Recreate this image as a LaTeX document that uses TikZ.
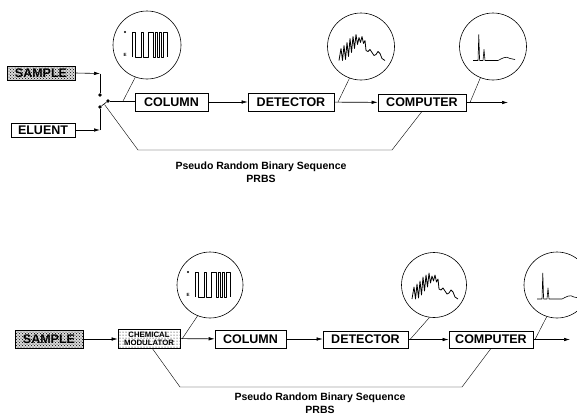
\documentclass[tikz,border=0pt]{standalone}
\usepackage{fontspec}
\setmainfont{Liberation Sans}
\usetikzlibrary{arrows.meta,patterns}
\tikzset{
  boxn/.style={draw, line width=0.7pt, inner sep=0pt, fill=white, font=\bfseries\fontsize{12.5}{12.5}\selectfont},
  samplebox/.style={boxn, preaction={fill=gray!30}, pattern=crosshatch dots},
  lens/.style={draw, circle, line width=0.6pt, inner sep=0pt, fill=white},
  flow/.style={line width=0.6pt, -{Latex[length=6pt,width=3.5pt]}},
  plain/.style={line width=0.6pt},
  leader/.style={line width=0.4pt},
  sig/.style={line width=0.5pt, line join=round},
  dotn/.style={circle, fill, inner sep=0pt, minimum size=3.6pt},
  lbl/.style={font=\bfseries\fontsize{10.5}{12.5}\selectfont, align=center},
  pics/prbs/.style={code={
    \fill (-22,-13) circle (1.2);
    \node[font=\bfseries\fontsize{4.5}{4.5}\selectfont, inner sep=0pt] at (-22,10) {E};
    \draw[sig] (-15,12) -- (-15,-13) -- (-12,-13) -- (-12,12) -- (-6,12) -- (-6,-13) -- (-4,-13) -- (-4,12) -- (1,12) -- (1,-13) -- (6,-13) -- (6,12) -- (8,12) -- (8,-13) -- (10,-13) -- (10,12) -- (12,12) -- (12,-13) -- (14,-13) -- (14,12) -- (16,12) -- (16,-13) -- (20,-13) -- (20,12);
  }},
  pics/chrom/.style={code={
    \draw[sig, line width=0.8pt] (-22,14) -- (-20,2) -- (-18.5,14) -- (-17,-1) -- (-15.5,13) -- (-14,-4) -- (-12.5,10) -- (-11,-8) -- (-9.5,6) -- (-8,-10) -- (-6.5,2) -- (-5,-12) -- (-3.5,-2) -- (-2,-9) -- (-0.5,-4) -- (1,-10) -- (2.5,-3) -- (4,-6) -- (5,4) -- (7,5) -- (9,3) -- (11,6) -- (13,9) -- (15,8) -- (17,5) -- (19,7) -- (21,12) -- (24,14);
  }},
  pics/peak/.style={code={
    \draw[sig, line width=0.6pt] (-20,14) -- (-15,14) -- (-14.2,-12) -- (-13.4,14) -- (-10,14) -- (-9,3) -- (-8,14) -- (5,14) .. controls (9,12) and (13,9) .. (17,12) -- (22,13);
  }}
}
\begin{document}
\begin{tikzpicture}[x=1pt,y=-1pt]
\useasboundingbox (0,0) rectangle (577,416);
\clip (0,0) rectangle (577,416);

% ---------------- top diagram ----------------
\node[samplebox, minimum width=68pt, minimum height=14pt] (s1) at (41,73) {SAMPLE};
\node[boxn, minimum width=64pt, minimum height=14pt] (el) at (43,130) {ELUENT};
\node[dotn] (d1) at (100,95) {};
\node[dotn] (d2) at (100,107) {};
\node[dotn] (d3) at (108,101) {};
\coordinate (k1) at (100,73.5);
\coordinate (k2) at (100,130);
\draw[flow] (s1.east) -- (k1);
\draw[plain] (k1) -- (d1);
\draw[flow] (el.east) -- (k2);
\draw[plain] (k2) -- (d2);
\draw[plain] (d2) -- (d3);

\node[boxn, minimum width=73pt, minimum height=18pt] (col1) at (171.5,102) {COLUMN};
\node[boxn, minimum width=86pt, minimum height=18pt] (det1) at (291,102) {DETECTOR};
\node[boxn, minimum width=88pt, minimum height=17pt] (com1) at (422,102.5) {COMPUTER};
\coordinate (out1) at (508,102.5);
\draw[plain] (d3) -- (d3 -| col1.west);
\draw[flow] (col1) -- (det1);
\draw[flow] (det1) -- (com1);
\draw[flow] (com1) -- (out1);

\node[lens, minimum size=68pt] (c1) at (147,45) {};
\node[lens, minimum size=67pt] (c2) at (361,46.5) {};
\node[lens, minimum size=67pt] (c3) at (493,46.5) {};
\pic at (c1.center) {prbs};
\pic at (c2.center) {chrom};
\pic at (c3.center) {peak};
\coordinate (t1) at (123,101);
\coordinate (t2) at (338,102);
\coordinate (t3) at (470,102.5);
\draw[leader] (c1.250) -- (t1);
\draw[leader] (c2.250) -- (t2);
\draw[leader] (c3.248) -- (t3);

\coordinate (sw) at (104.5,104.5);
\coordinate (p1a) at (138,150);
\coordinate (p1b) at (392,150);
\draw[leader] (sw) -- (p1a) -- (p1b) -- (com1.south);
\node[lbl] (lab1) at (261,172) {Pseudo Random Binary Sequence\\PRBS};

% ---------------- bottom diagram ----------------
\node[samplebox, minimum width=68pt, minimum height=18pt] (s2) at (49,339) {SAMPLE};
\node[boxn, pattern=dots, minimum width=62pt, minimum height=19pt, align=center, font=\bfseries\fontsize{7.8}{8.3}\selectfont] (mod) at (149,338.5) {CHEMICAL\\MODULATOR};
\node[boxn, minimum width=71pt, minimum height=18pt] (col2) at (250.5,339) {COLUMN};
\node[boxn, minimum width=85pt, minimum height=17pt] (det2) at (365.5,339.5) {DETECTOR};
\node[boxn, minimum width=84pt, minimum height=17pt] (com2) at (491,339.5) {COMPUTER};
\coordinate (out2) at (570,339.5);
\draw[flow] (s2) -- (s2 -| mod.west);
\draw[flow] (mod) -- (col2);
\draw[flow] (col2) -- (col2 -| det2.west);
\draw[flow] (det2) -- (com2);
\draw[flow] (com2) -- (out2);

\node[lens, minimum size=66pt] (c4) at (210,285) {};
\node[lens, minimum size=65pt] (c5) at (434,285) {};
\node[lens, minimum size=66pt] (c6) at (557,285) {};
\pic at (c4.center) {prbs};
\pic at (c5.center) {chrom};
\pic at (c6.center) {peak};
\coordinate (t4) at (182,339);
\coordinate (t5) at (410,339.5);
\coordinate (t6) at (535,339.5);
\draw[leader] (c4.248) -- (t4);
\draw[leader] (c5.262) -- (t5);
\draw[leader] (c6.252) -- (t6);

\coordinate (m0) at (152,348);
\coordinate (p2a) at (180,387);
\coordinate (p2b) at (462,387);
\draw[leader] (m0) -- (p2a) -- (p2b) -- (com2.south);
\node[lbl] (lab2) at (320,403) {Pseudo Random Binary Sequence\\PRBS};
\end{tikzpicture}
\end{document}
